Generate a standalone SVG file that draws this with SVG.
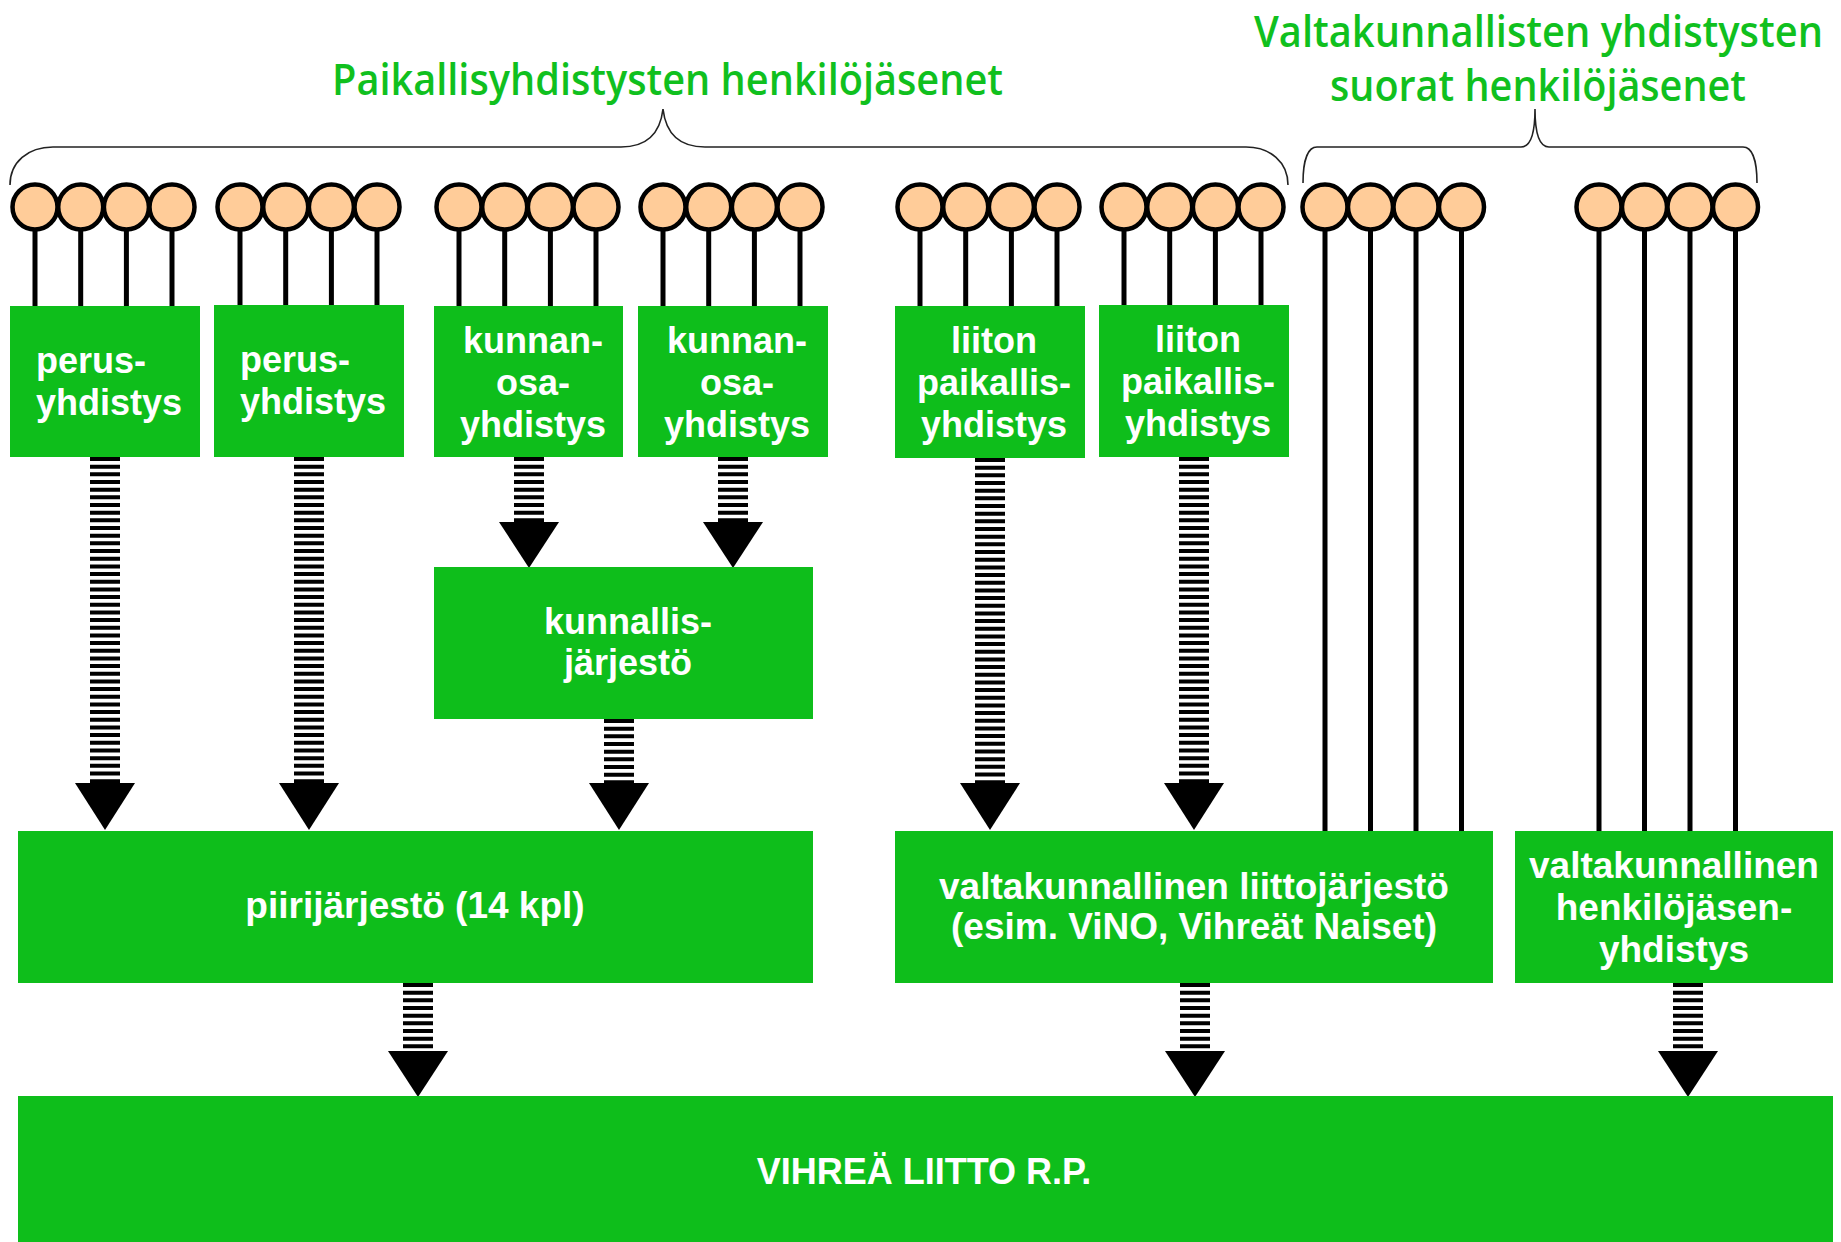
<svg xmlns="http://www.w3.org/2000/svg" width="1841" height="1242" viewBox="0 0 1841 1242">
<style>
.box{fill:#0ebe1b}
.t{font-family:"Liberation Sans",Arial,sans-serif;font-weight:bold;font-size:36px;fill:#fff}
.tl{font-size:37px}
.c{text-anchor:middle}
.title{font-family:"Open Sans","DejaVu Sans",sans-serif;font-weight:600;font-size:40px;fill:#10c01e}
.brace{fill:none;stroke:#222;stroke-width:1.6}
.stem{stroke:#000;stroke-width:5}
.mem{fill:#ffcc99;stroke:#000;stroke-width:4.5}
.stripe{stroke:#000;stroke-width:30;stroke-dasharray:4 3.67}
.head{fill:#000}
</style>
<defs>
<g id="four">
<line class="stem" x1="0" y1="207" x2="0" y2="306"/>
<line class="stem" x1="45.7" y1="207" x2="45.7" y2="306"/>
<line class="stem" x1="91.4" y1="207" x2="91.4" y2="306"/>
<line class="stem" x1="137" y1="207" x2="137" y2="306"/>
<circle class="mem" cx="0" cy="207" r="22.5"/>
<circle class="mem" cx="45.7" cy="207" r="22.5"/>
<circle class="mem" cx="91.4" cy="207" r="22.5"/>
<circle class="mem" cx="137" cy="207" r="22.5"/>
</g>
<g id="fourlong">
<line class="stem" x1="0" y1="207" x2="0" y2="831"/>
<line class="stem" x1="45.5" y1="207" x2="45.5" y2="831"/>
<line class="stem" x1="91" y1="207" x2="91" y2="831"/>
<line class="stem" x1="136.5" y1="207" x2="136.5" y2="831"/>
<circle class="mem" cx="0" cy="207" r="22.5"/>
<circle class="mem" cx="45.5" cy="207" r="22.5"/>
<circle class="mem" cx="91" cy="207" r="22.5"/>
<circle class="mem" cx="136.5" cy="207" r="22.5"/>
</g>
</defs>

<g id="titles">
<text class="title" transform="translate(332,95) scale(1,1.1)" textLength="671" lengthAdjust="spacingAndGlyphs">Paikallisyhdistysten henkilöjäsenet</text>
<text class="title" transform="translate(1254,47) scale(1,1.1)" textLength="569" lengthAdjust="spacingAndGlyphs">Valtakunnallisten yhdistysten</text>
<text class="title" transform="translate(1330,101) scale(1,1.1)" textLength="416" lengthAdjust="spacingAndGlyphs">suorat henkilöjäsenet</text>
<path class="brace" d="M10,185 C10,162 28,147 53,147 L621,147 C645,147 660,135 663,109 C666,135 681,147 705,147 L1246,147 C1270,147 1288,162 1288,185"/>
<path class="brace" d="M1303,183 C1303,160 1308,147 1317,147 L1521,147 C1530,147 1535,135 1535,109 C1535,135 1540,147 1549,147 L1743,147 C1752,147 1757,160 1757,183"/>
</g>

<g id="members">
<use href="#four" x="35"/>
<use href="#four" x="240"/>
<use href="#four" x="459"/>
<use href="#four" x="663"/>
<use href="#four" x="920"/>
<use href="#four" x="1124"/>
<use href="#fourlong" x="1325"/>
<use href="#fourlong" x="1599"/>
</g>

<g id="connectors">
<line class="stripe" x1="105" y1="457" x2="105" y2="784"/>
<polygon class="head" points="75,783 135,783 105,830"/>
<line class="stripe" x1="309" y1="457" x2="309" y2="784"/>
<polygon class="head" points="279,783 339,783 309,830"/>
<line class="stripe" x1="529" y1="457" x2="529" y2="523"/>
<polygon class="head" points="499,522 559,522 529,568"/>
<line class="stripe" x1="733" y1="457" x2="733" y2="523"/>
<polygon class="head" points="703,522 763,522 733,568"/>
<line class="stripe" x1="619" y1="719" x2="619" y2="784"/>
<polygon class="head" points="589,783 649,783 619,830"/>
<line class="stripe" x1="990" y1="458" x2="990" y2="784"/>
<polygon class="head" points="960,783 1020,783 990,830"/>
<line class="stripe" x1="1194" y1="457" x2="1194" y2="784"/>
<polygon class="head" points="1164,783 1224,783 1194,830"/>
<line class="stripe" x1="418" y1="983" x2="418" y2="1052"/>
<polygon class="head" points="388,1051 448,1051 418,1097"/>
<line class="stripe" x1="1195" y1="983" x2="1195" y2="1052"/>
<polygon class="head" points="1165,1051 1225,1051 1195,1097"/>
<line class="stripe" x1="1688" y1="983" x2="1688" y2="1052"/>
<polygon class="head" points="1658,1051 1718,1051 1688,1097"/>
</g>

<g id="perus1">
<rect class="box" x="10" y="306" width="190" height="151"/>
<text class="t" x="36" y="373">perus-</text>
<text class="t" x="36" y="415">yhdistys</text>
</g>
<g id="perus2">
<rect class="box" x="214" y="305" width="190" height="152"/>
<text class="t" x="240" y="372">perus-</text>
<text class="t" x="240" y="414">yhdistys</text>
</g>
<g id="kunnanosa1">
<rect class="box" x="434" y="306" width="189" height="151"/>
<text class="t c" x="533" y="353">kunnan-</text>
<text class="t c" x="533" y="395">osa-</text>
<text class="t c" x="533" y="437">yhdistys</text>
</g>
<g id="kunnanosa2">
<rect class="box" x="638" y="306" width="190" height="151"/>
<text class="t c" x="737" y="353">kunnan-</text>
<text class="t c" x="737" y="395">osa-</text>
<text class="t c" x="737" y="437">yhdistys</text>
</g>
<g id="liiton1">
<rect class="box" x="895" y="306" width="190" height="152"/>
<text class="t c" x="994" y="353">liiton</text>
<text class="t c" x="994" y="395">paikallis-</text>
<text class="t c" x="994" y="437">yhdistys</text>
</g>
<g id="liiton2">
<rect class="box" x="1099" y="305" width="190" height="152"/>
<text class="t c" x="1198" y="352">liiton</text>
<text class="t c" x="1198" y="394">paikallis-</text>
<text class="t c" x="1198" y="436">yhdistys</text>
</g>
<g id="kunnallisjarjesto">
<rect class="box" x="434" y="567" width="379" height="152"/>
<text class="t c" x="628" y="634">kunnallis-</text>
<text class="t c" x="628" y="675">järjestö</text>
</g>
<g id="piirijarjesto">
<rect class="box" x="18" y="831" width="795" height="152"/>
<text class="t tl c" x="415" y="918">piirijärjestö (14 kpl)</text>
</g>
<g id="liittojarjesto">
<rect class="box" x="895" y="831" width="598" height="152"/>
<text class="t tl c" x="1194" y="899">valtakunnallinen liittojärjestö</text>
<text class="t tl c" x="1194" y="939">(esim. ViNO, Vihreät Naiset)</text>
</g>
<g id="henkilojasenyhdistys">
<rect class="box" x="1515" y="831" width="318" height="152"/>
<text class="t tl c" x="1674" y="878">valtakunnallinen</text>
<text class="t tl c" x="1674" y="920">henkilöjäsen-</text>
<text class="t tl c" x="1674" y="962">yhdistys</text>
</g>
<g id="vihrealiitto">
<rect class="box" x="18" y="1096" width="1815" height="146"/>
<text class="t c" x="924" y="1184">VIHREÄ LIITTO R.P.</text>
</g>
</svg>
